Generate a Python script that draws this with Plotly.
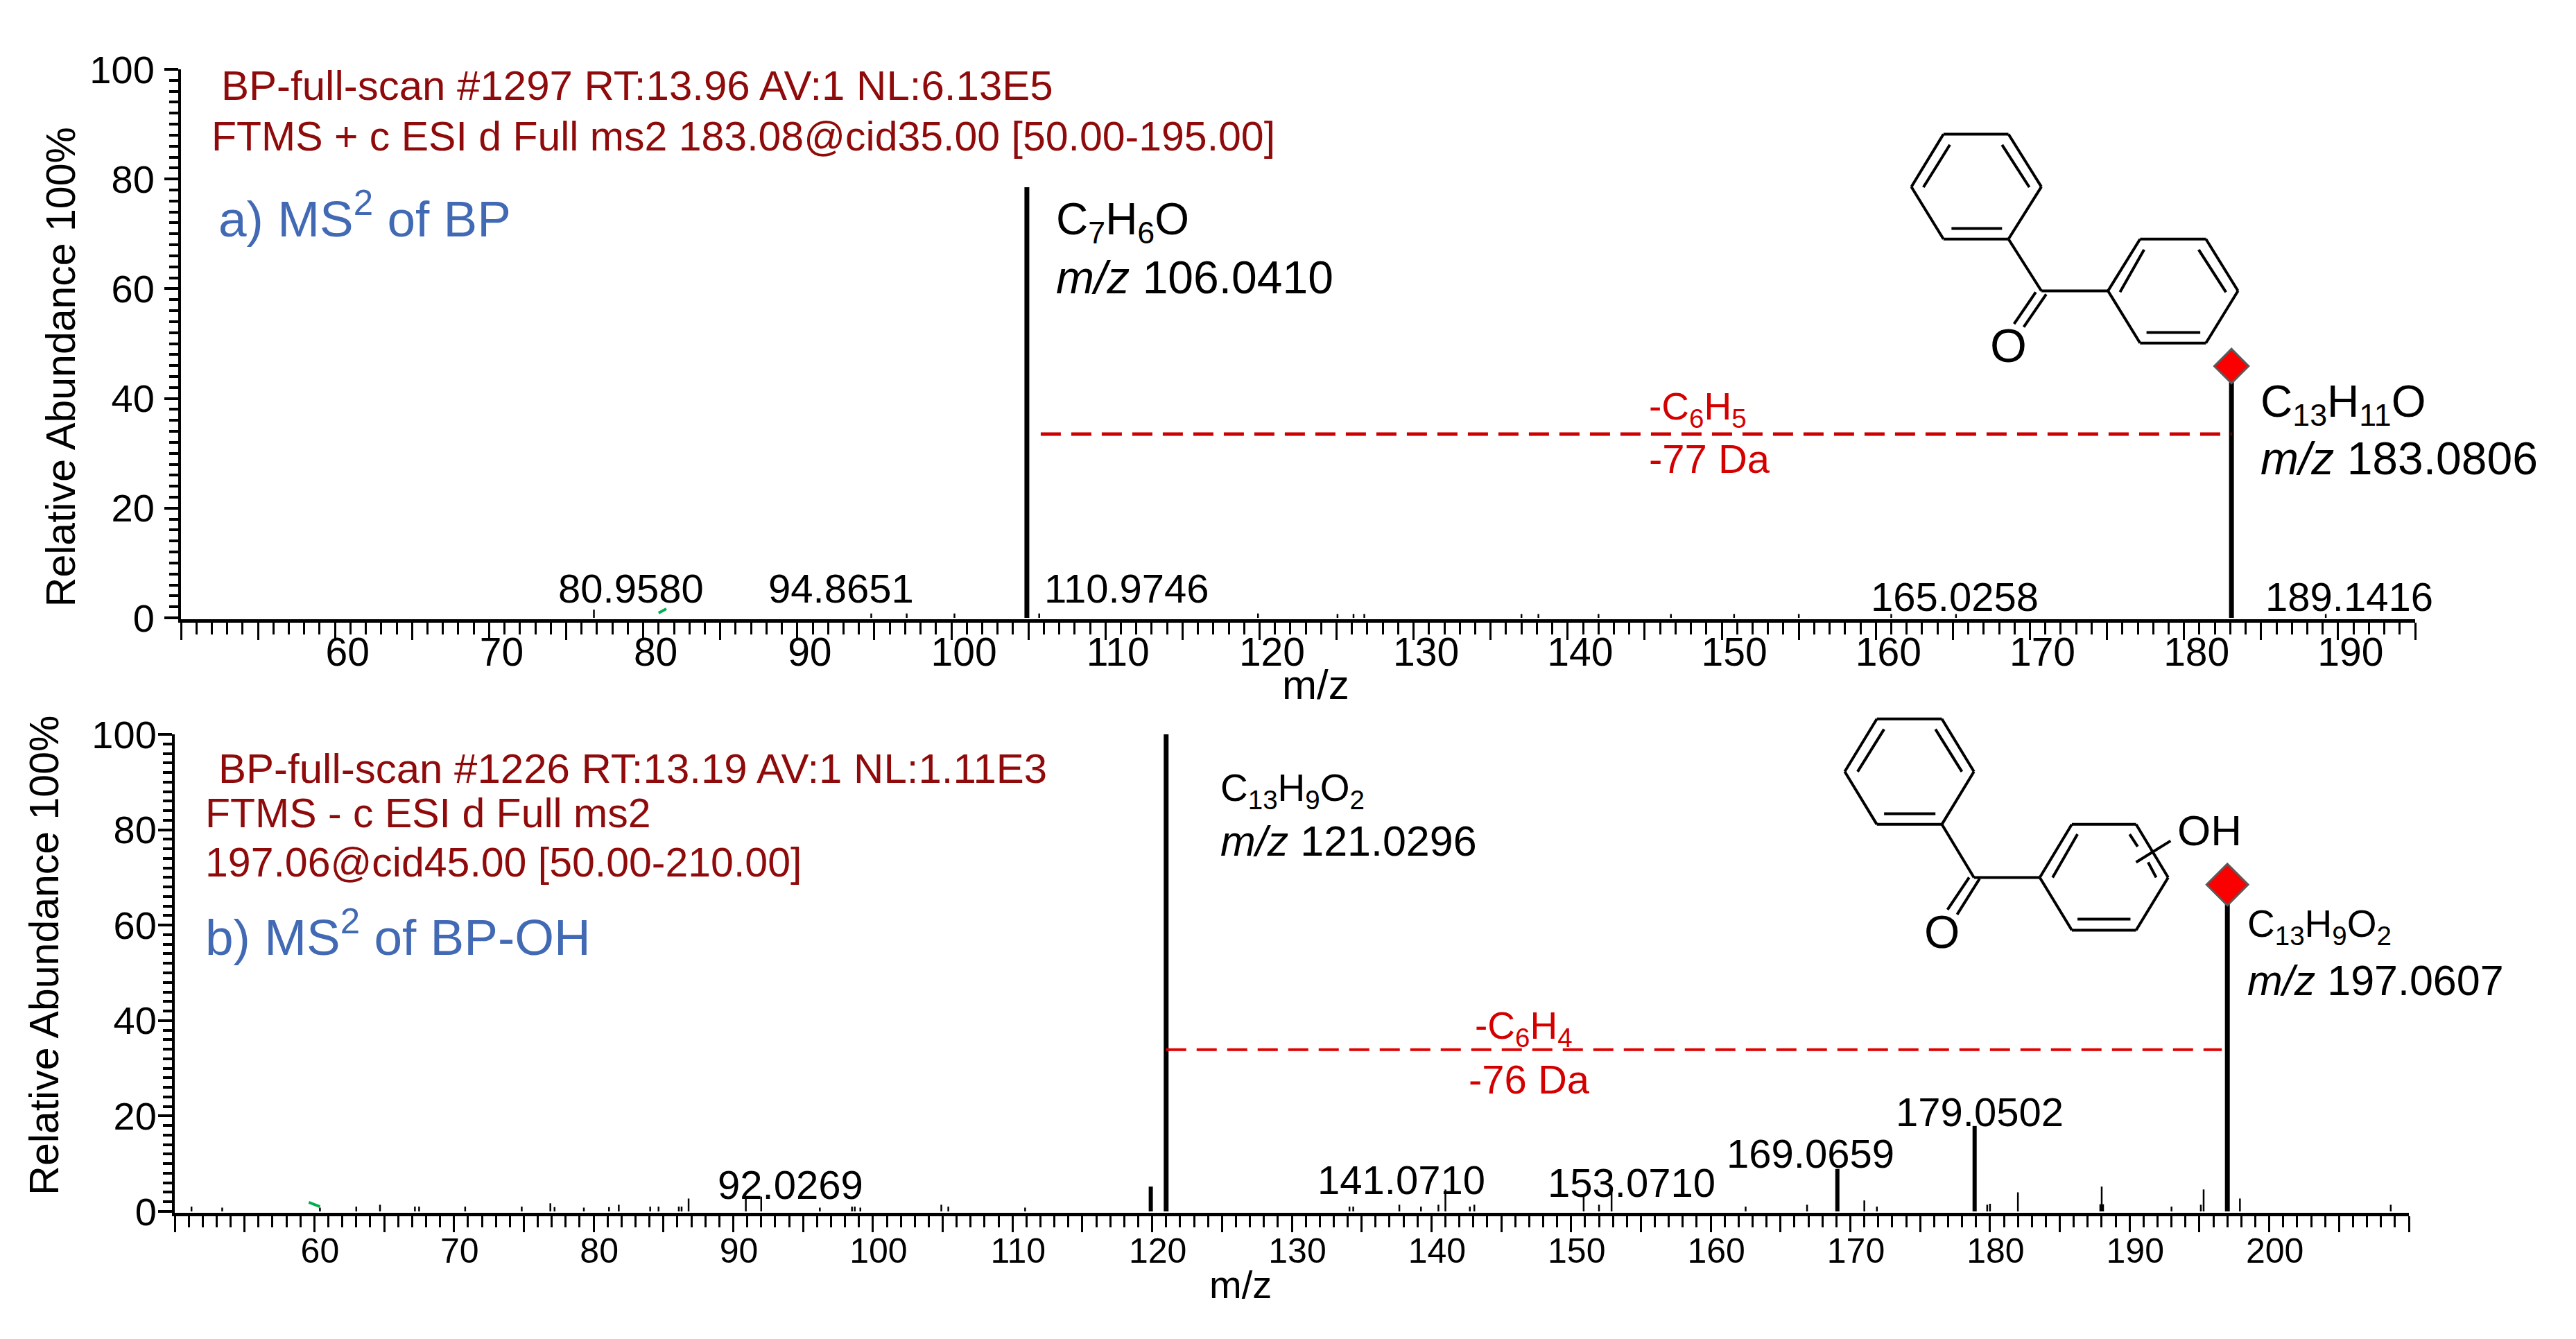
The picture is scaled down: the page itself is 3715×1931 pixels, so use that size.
import plotly.graph_objects as go

W, H = 3715, 1931
FONT = "Liberation Sans"
DARKRED = "#8f0a0a"
BLUE = "#4169b4"
RED = "#d40000"

# ---------- panel a data ----------
a_main_mz = [104.9, 183.08]
a_main_int = [78.5, 45.9]
a_small_mz = [76.8, 94.8, 97.1, 100.2, 105.7, 119.9, 125.06, 126.1, 126.8, 137.0, 138.1, 142.0,
              146.7, 150.8, 155.0, 161.0, 165.2, 189.2]
a_small_int = [1.5, 0.8, 0.8, 0.8, 0.8, 0.8, 0.7, 0.7, 0.7, 0.7, 0.7, 0.7,
               0.7, 0.7, 0.7, 0.7, 0.7, 0.7]
a_green_mz = [81.0, 81.5]
a_green_int = [0.9, 1.65]
a_loss_mz = [105.8, 183.08]
a_loss_int = [33.5, 33.5]
a_labels = ["80.9580", "94.8651", "110.9746", "165.0258", "189.1416"]

# ---------- panel b data ----------
b_main_mz = [121.0, 197.0]
b_main_int = [100.0, 68.5]
b_mid_mz = [119.9, 169.07, 178.9]
b_mid_int = [5.2, 8.9, 17.9]
b_small_mz = [51.2, 53.4, 60.4, 63.0, 64.7, 67.2, 67.5, 70.8, 74.85, 76.9, 77.2, 79.3, 81.1, 81.8,
              84.05, 84.65, 86.1, 86.3, 86.8, 90.9, 92.0, 96.2, 98.5, 98.7, 99.1, 104.9, 105.4,
              110.9, 134.13, 134.4, 137.7, 139.25, 140.5, 141.0, 142.75, 143.07, 150.9, 152.0,
              152.9, 162.5, 166.9, 171.0, 171.9, 179.8, 180.0, 182.0, 187.9, 188.0, 188.1, 193.0,
              195.1, 195.3, 197.9, 208.7]
b_small_int = [1.0, 0.8, 0.8, 1.0, 1.4, 1.0, 1.0, 1.0, 1.0, 1.7, 0.9, 0.8, 0.9, 1.4,
               1.0, 1.0, 1.0, 1.0, 2.7, 3.1, 3.1, 0.8, 1.0, 1.0, 0.8, 1.4, 1.0,
               0.8, 1.0, 1.0, 1.4, 1.0, 1.4, 4.6, 1.0, 1.4, 3.6, 1.4,
               4.0, 1.0, 1.4, 2.3, 1.0, 1.4, 1.6, 4.0, 1.5, 5.2, 1.5, 1.0,
               1.4, 4.6, 2.7, 1.4]
b_green_mz = [59.6, 60.4]
b_green_int = [1.9, 1.0]
b_loss_mz = [121.0, 196.6]
b_loss_int = [33.9, 33.9]
b_labels = ["92.0269", "141.0710", "153.0710", "169.0659", "179.0502"]

# ---------- axis ticks ----------
a_ticks = list(range(50, 196, 5))
b_ticks = list(range(50, 211, 5))
a_labelled = list(range(60, 191, 10))
b_labelled = list(range(60, 201, 10))
y_ticks = [0, 20, 40, 60, 80, 100]


def px(x):
    return x / W


def py(y):
    return 1 - y / H


def sticks(mz, inten):
    xs, ys = [], []
    for m, i in zip(mz, inten):
        xs += [m, m, None]
        ys += [0, i, None]
    return xs, ys


fig = go.Figure()


def add_sticks(mz, inten, width, sub):
    xs, ys = sticks(mz, inten)
    fig.add_trace(go.Scatter(x=xs, y=ys, mode="lines", line=dict(color="black", width=width),
                             xaxis=sub[0], yaxis=sub[1], showlegend=False, hoverinfo="skip"))


def add_line(mz, inten, color, width, dash, sub):
    fig.add_trace(go.Scatter(x=mz, y=inten, mode="lines", line=dict(color=color, width=width, dash=dash),
                             xaxis=sub[0], yaxis=sub[1], showlegend=False, hoverinfo="skip"))


def add_marker(mz, inten, size, sub):
    fig.add_trace(go.Scatter(x=[mz], y=[inten], mode="markers",
                             marker=dict(symbol="diamond", color="#fa0000", size=size,
                                         line=dict(color="#5a5a5a", width=3)),
                             xaxis=sub[0], yaxis=sub[1], showlegend=False, hoverinfo="skip"))


SA, SB = ("x", "y"), ("x2", "y2")

add_sticks(a_small_mz, a_small_int, 2.5, SA)
add_sticks(a_main_mz, a_main_int, 7, SA)
add_line(a_green_mz, a_green_int, "#00b050", 4, "solid", SA)
add_line(a_loss_mz, a_loss_int, "#cc0000", 5, "29px,15px", SA)
add_marker(a_main_mz[1], a_main_int[1], 38, SA)

add_sticks(b_small_mz, b_small_int, 2.5, SB)
add_sticks(b_mid_mz, b_mid_int, 6, SB)
add_sticks(b_main_mz, b_main_int, 7, SB)
add_line(b_green_mz, b_green_int, "#00b050", 4, "solid", SB)
add_line(b_loss_mz, b_loss_int, "#e00000", 4, "29px,15px", SB)
add_marker(b_main_mz[1], b_main_int[1], 46, SB)


def xaxis(domain, rng, ticks, labelled, size, shift, standoff, ticklen, minorlen):
    return dict(domain=[px(domain[0]), px(domain[1])], range=rng, tickmode="array", tickvals=ticks,
                ticktext=[str(t) if t in labelled else "" for t in ticks],
                tickfont=dict(family=FONT, size=size, color="black"), ticks="outside", ticklen=ticklen,
                tickwidth=2.5, tickcolor="black", showline=True, linecolor="black", linewidth=5,
                showgrid=False, zeroline=False, ticklabelshift=shift, ticklabelstandoff=standoff,
                tickangle=0, minor=dict(dtick=1, ticks="outside", ticklen=minorlen, tickwidth=2.5,
                                        tickcolor="black", showgrid=False))


def yaxis(domain, rng, anchor, size, standoff):
    return dict(domain=[py(domain[1]), py(domain[0])], range=rng, anchor=anchor, tickmode="array",
                tickvals=y_ticks, ticktext=[str(t) for t in y_ticks],
                tickfont=dict(family=FONT, size=size, color="black"), ticks="outside", ticklen=20,
                tickwidth=4, tickcolor="black", showline=True, linecolor="black", linewidth=4,
                showgrid=False, zeroline=False, ticklabelstandoff=standoff,
                minor=dict(dtick=2, ticks="outside", ticklen=13, tickwidth=4, tickcolor="black",
                           showgrid=False))


fig.update_layout(
    width=W, height=H, autosize=False, margin=dict(l=0, r=0, t=0, b=0, autoexpand=False),
    paper_bgcolor="white", plot_bgcolor="white", showlegend=False,
    xaxis=dict(anchor="y", **xaxis((261, 3483), [50, 195], a_ticks, a_labelled, 57, 18, -31, 25, 17)),
    xaxis2=dict(anchor="y2", **xaxis((252, 3474), [50, 210], b_ticks, b_labelled, 50, 8, -16, 23, 16)),
    yaxis=yaxis((100, 893), [-0.25, 100], "x", 56, 3),
    yaxis2=yaxis((1059, 1749), [-0.29, 100], "x2", 56, -9),
)


def text(s, x, y, size, color="black", anchor="left", angle=0):
    fig.add_annotation(text=s, x=px(x), y=py(y), xref="paper", yref="paper", showarrow=False,
                       xanchor=anchor, yanchor="middle", textangle=angle,
                       font=dict(family=FONT, size=size, color=color))


S = 3715 / 1568  # text positions below were measured on the 1568 px wide view


def t(s, x, y, size, color="black", anchor="left", angle=0):
    text(s, x * S, y * S, size, color, anchor, angle)


# panel a text
t("BP-full-scan #1297 RT:13.96 AV:1 NL:6.13E5", 134, 52, 60, DARKRED)
t("FTMS + c ESI d Full ms2 183.08@cid35.00 [50.00-195.00]", 128, 83, 59, DARKRED)
t("a) MS<sup>2</sup> of BP", 132, 131, 73, BLUE)
t("C<sub>7</sub>H<sub>6</sub>O", 642, 135, 64)
t("<i>m/z</i> 106.0410", 642, 169, 66)
t("-C<sub>6</sub>H<sub>5</sub>", 1003, 249, 55, RED)
t("-77 Da", 1003, 279, 58, RED)
t("C<sub>13</sub>H<sub>11</sub>O", 1375, 246, 64)
t("<i>m/z</i> 183.0806", 1375, 279, 66)
t("Relative Abundance 100%", 37, 223.5, 59, "black", "center", -90)
t("m/z", 801, 417, 60, "black", "center")
for lab, cx, cy in zip(a_labels, [384, 512, 686, 1190, 1430], [358, 358, 358, 363, 363]):
    t(lab, cx, cy, 58, "black", "center")

# panel b text
t("BP-full-scan #1226 RT:13.19 AV:1 NL:1.11E3", 132, 468, 60, DARKRED)
t("FTMS - c ESI d Full ms2", 124, 495, 59, DARKRED)
t("197.06@cid45.00 [50.00-210.00]", 124, 525, 59, DARKRED)
t("b) MS<sup>2</sup> of BP-OH", 124, 568, 73, BLUE)
t("C<sub>13</sub>H<sub>9</sub>O<sub>2</sub>", 742, 481, 55)
t("<i>m/z</i> 121.0296", 742, 512, 61)
t("-C<sub>6</sub>H<sub>4</sub>", 897, 626, 55, RED)
t("-76 Da", 893, 657, 58, RED)
t("C<sub>13</sub>H<sub>9</sub>O<sub>2</sub>", 1367, 564, 55)
t("<i>m/z</i> 197.0607", 1367, 597, 61)
t("Relative Abundance 100%", 27, 581.5, 59, "black", "center", -90)
t("m/z", 755, 782, 56, "black", "center")
for lab, cx, cy in zip(b_labels, [481, 853, 993, 1102, 1205], [721, 718, 720, 702, 677]):
    t(lab, cx, cy, 58, "black", "center")

# chemical structure drawings (decorations, given in full-size pixels via crop coordinates)
shapes = []


def seg(p, q, ox, oy, sx, sy, w=4):
    shapes.append(dict(type="line", xref="paper", yref="paper",
                       x0=px(ox + p[0] / sx), y0=py(oy + p[1] / sy),
                       x1=px(ox + q[0] / sx), y1=py(oy + q[1] / sy),
                       line=dict(color="black", width=w)))


def poly(points, *frame):
    for a, b in zip(points, points[1:] + points[:1]):
        seg(a, b, *frame)


F1 = (1900, 60, 0.864, 1.633)
poly([(780, 218), (861, 218), (902, 342), (861, 465), (780, 465), (740, 342)], *F1)
poly([(985, 587), (1025, 465), (1107, 465), (1147, 587), (1107, 710), (1025, 710)], *F1)
for a, b in [((788, 243), (755, 343)), ((853, 243), (887, 343)), ((790, 440), (853, 440)),
             ((861, 465), (902, 587)), ((902, 587), (985, 587)),
             ((1030, 490), (1000, 590)), ((1098, 490), (1132, 590)), ((1033, 685), (1100, 685)),
             ((895, 590), (868, 665)), ((908, 595), (880, 672))]:
    seg(a, b, *F1)
text("O", 1900 + 861 / 0.864, 60 + 715 / 1.633, 68, "black", "center")

F2 = (1900, 1000, 0.864, 1.684)
poly([(697, 62), (778, 62), (818, 190), (778, 318), (697, 318), (657, 190)], *F2)
poly([(900, 447), (940, 318), (1020, 318), (1060, 447), (1020, 575), (940, 575)], *F2)
for a, b in [((706, 87), (673, 190)), ((770, 87), (803, 190)), ((706, 292), (770, 292)),
             ((778, 318), (818, 447)), ((818, 447), (900, 447)),
             ((947, 342), (916, 447)), ((1012, 342), (1022, 372)), ((1035, 410), (1045, 447)),
             ((947, 548), (1013, 548)), ((812, 447), (785, 525)), ((825, 450), (797, 537)),
             ((1020, 410), (1063, 358))]:
    seg(a, b, *F2)
text("O", 1900 + 778 / 0.864, 1000 + 580 / 1.684, 66, "black", "center")
text("OH", 1900 + 1070 / 0.864, 1000 + 333 / 1.684, 62)

fig.update_layout(shapes=shapes)

fig.write_html("out.html", post_script="document.body.style.margin='0';document.body.style.overflow='hidden';",
               config=dict(displayModeBar=False))
